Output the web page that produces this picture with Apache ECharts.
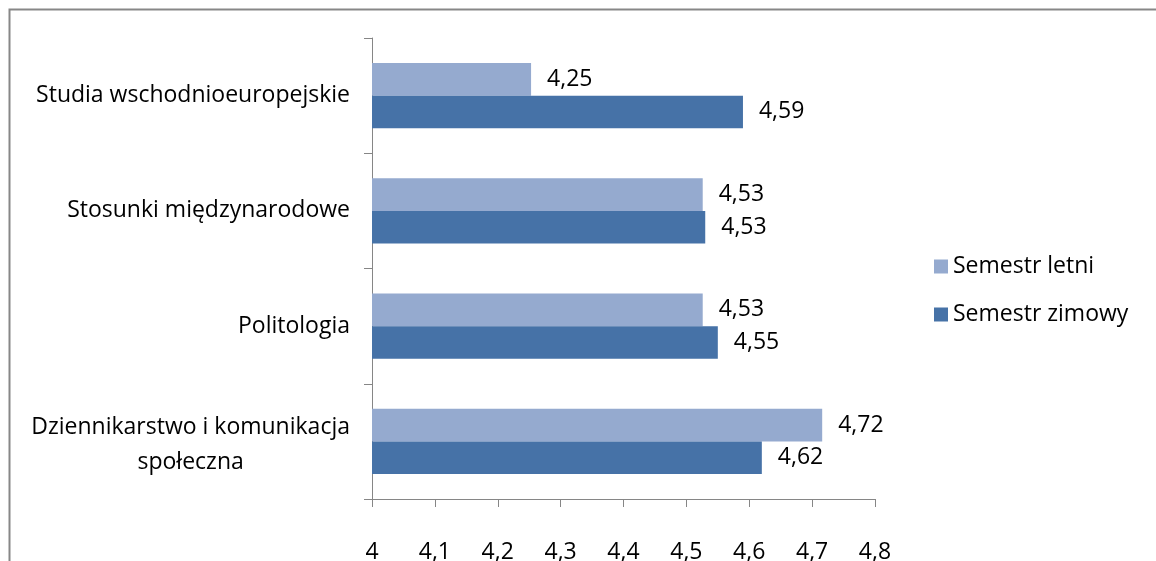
<!DOCTYPE html>
<html><head><meta charset="utf-8">
<script src="https://cdn.jsdelivr.net/npm/echarts@6/dist/echarts.min.js"></script>
<style>html,body{margin:0;padding:0;background:#fff}#c{width:1156px;height:561px}</style>
</head><body><div id="c"></div>
<script>
const categories = ['Dziennikarstwo i komunikacja\nspołeczna', 'Politologia', 'Stosunki międzynarodowe', 'Studia wschodnioeuropejskie'];
const seriesNames = ['Semestr letni', 'Semestr zimowy'];
const letni = [4.716, 4.526, 4.526, 4.253];
const zimowy = [4.62, 4.55, 4.53, 4.59];
const xTicks = [4, 4.1, 4.2, 4.3, 4.4, 4.5, 4.6, 4.7, 4.8];

const FONT = 'Open Sans';
const FS = 23;
const chart = echarts.init(document.getElementById('c'), null, {renderer: 'canvas'});
const fmtNum = v => String(v).replace('.', ',');
const labelCfg = {
  show: true, position: 'right', distance: 16,
  fontFamily: FONT, fontSize: FS, color: '#000',
  formatter: p => p.value.toFixed(2).replace('.', ',')
};
chart.setOption({
  animation: false,
  textStyle: {fontFamily: FONT},
  graphic: [{
    type: 'rect', left: 7, top: 7, shape: {width: 1200, height: 600},
    style: {fill: 'none', stroke: '#878787', lineWidth: 2}, silent: true
  }],
  grid: {left: 372, right: 281, top: 38, bottom: 62, containLabel: false, outerBoundsMode: 'none'},
  legend: {
    orient: 'vertical', left: 929, top: 250, icon: 'rect',
    itemWidth: 14, itemHeight: 14, itemGap: 25,
    textStyle: {fontFamily: FONT, fontSize: FS, color: '#000'},
    data: seriesNames
  },
  xAxis: {
    type: 'value', min: 4, max: 4.8, interval: 0.1,
    axisLine: {show: true, lineStyle: {color: '#868686', width: 1}},
    axisTick: {show: true, length: 8, lineStyle: {color: '#868686'}},
    splitLine: {show: false},
    axisLabel: {fontFamily: FONT, fontSize: FS, color: '#000', margin: 42,
      formatter: v => { const t = xTicks.find(x => Math.abs(x - v) < 1e-9); return fmtNum(t !== undefined ? t : v); }}
  },
  yAxis: {
    type: 'category', data: categories,
    axisLine: {show: true, lineStyle: {color: '#868686', width: 1}},
    axisTick: {show: true, length: 8, lineStyle: {color: '#868686'}},
    axisLabel: {
      margin: 22, align: 'right', color: '#000',
      formatter: v => {
        const lines = v.split('\n');
        const body = lines.map(s => '{c|' + s + '}').join('\n');
        return lines.length > 1 ? '{e| }\n' + body : body;
      },
      rich: {
        c: {align: 'center', fontFamily: FONT, fontSize: FS, color: '#000', lineHeight: 35},
        e: {fontSize: 1, lineHeight: 7}
      }
    }
  },
  series: [
    {name: seriesNames[0], type: 'bar', data: letni, barGap: '0%', barCategoryGap: '43.5%',
      itemStyle: {color: '#95AACF'}, label: labelCfg},
    {name: seriesNames[1], type: 'bar', data: zimowy, barGap: '0%', barCategoryGap: '43.5%',
      itemStyle: {color: '#4672A7'}, label: labelCfg}
  ]
});
</script></body></html>
